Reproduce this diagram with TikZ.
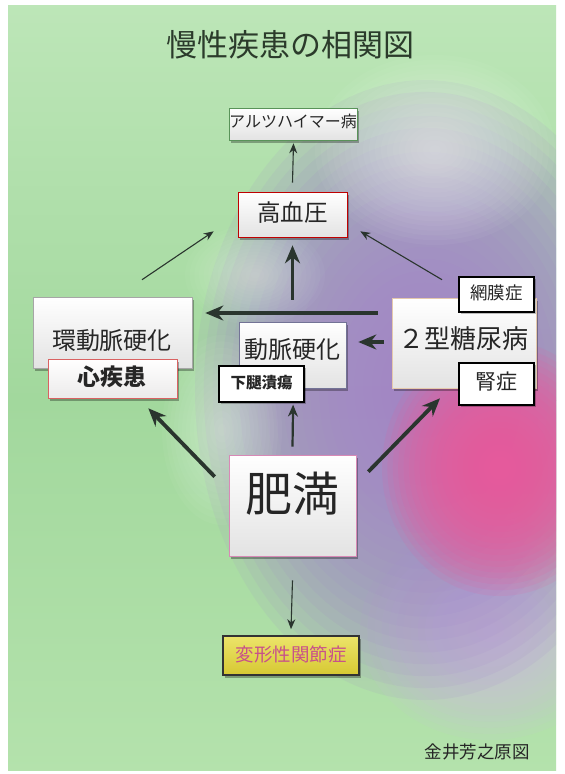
\documentclass[tikz,border=0pt]{standalone}
\usepackage{fontspec}
\newfontfamily\jp{Noto Sans CJK JP}
\usetikzlibrary{shadows,arrows.meta,calc}
\pgfdeclarelayer{backdrop}
\pgfdeclarelayer{connectors}
\pgfsetlayers{backdrop,connectors,main}
\newcommand\jfs[1]{\fontsize{#1}{#1}\selectfont}
% soft blob made of stacked translucent ellipses
\newcommand\softblob[7]{% color, cx, cy, rx, ry, steps, opacity
  \foreach \i in {1,...,#6}{%
    \fill[#1, opacity=#7] (#2,#3) ellipse ({#4*\i/#6} and {#5*\i/#6});
  }}
\definecolor{bgtop}{HTML}{BDE6B8}
\definecolor{bgmid}{HTML}{A2D89D}
\definecolor{bgbot}{HTML}{B4E2AC}
\definecolor{purp}{HTML}{A286CB}
\definecolor{lav}{HTML}{D2BCE4}
\definecolor{pinkb}{HTML}{EC5A9C}
\definecolor{arrowcol}{HTML}{2A352E}
\definecolor{txt}{HTML}{262626}
\definecolor{titlecol}{HTML}{2B3B2B}
\definecolor{yelltop}{HTML}{ECE46A}
\definecolor{yellbot}{HTML}{D6C832}
\definecolor{henktxt}{HTML}{C8508A}
\tikzset{
  box/.style={draw, line width=0.6pt, top color=white, bottom color=black!11, inner sep=0pt,
    drop shadow={shadow xshift=1.5pt, shadow yshift=-2.5pt, opacity=0.3, fill=black}},
  tagbox/.style={draw=black, line width=1.2pt, fill=white, inner sep=0pt,
    drop shadow={shadow xshift=1.5pt, shadow yshift=-2pt, opacity=0.25, fill=black}},
  lbl/.style={font=\jp, text=txt, inner sep=0pt},
  thinarr/.style={draw=arrowcol, line width=1.1pt, -{Stealth[length=10pt,width=8pt]}},
  medarr/.style={draw=arrowcol, line width=2.2pt, -{Stealth[length=12pt,width=10pt]}},
  thickarr/.style={draw=arrowcol, line width=3.8pt, -{Stealth[length=18pt,width=15pt]}}
}
\begin{document}
\begin{tikzpicture}[x=1pt,y=-1pt]
\useasboundingbox (0,0) rectangle (565,774);
\begin{pgfonlayer}{backdrop}
\fill[white] (0,0) rectangle (565,774);
\begin{scope}
\clip (8,5) rectangle (556,770);
\shade[top color=bgtop, bottom color=bgmid] (0,0) rectangle (565,400);
\shade[top color=bgmid, bottom color=bgbot] (0,400) rectangle (565,774);
% lavender lower right
\softblob{lav}{490}{630}{130}{110}{18}{0.09}
% purple region
\softblob{purp}{425}{390}{230}{310}{26}{0.115}
% faint light glow upper right
\softblob{white}{435}{150}{120}{95}{20}{0.04}
% pink blob
\softblob{pinkb}{500}{468}{118}{128}{22}{0.13}
% light areas left of the centre
\softblob{white}{222}{430}{60}{95}{15}{0.035}
\softblob{white}{255}{275}{70}{50}{15}{0.03}
\end{scope}
\end{pgfonlayer}

% title
\node[font=\jp\jfs{31}, text=titlecol, inner sep=0pt] (title) at (290,45) {慢性疾患の相関図};

% boxes
\node[box, draw=black!25!green!30!gray, minimum width=128pt, minimum height=32pt] (alz) at (293,124) {};
\node[lbl, font=\jp\jfs{16}] (alzt) at (293,121) {アルツハイマー病};

\node[box, draw=red!75!black, minimum width=109pt, minimum height=45pt] (hbp) at (292.5,214.5) {};
\node[lbl, font=\jp\jfs{23.5}] (hbpt) at (292.5,213) {高血圧};

\node[box, draw=black!35, minimum width=159pt, minimum height=71pt] (kan) at (112.5,332.5) {};
\node[lbl, font=\jp\jfs{24}] (kant) at (112,340) {環動脈硬化};
\node[box, draw=red!55!white!85!black, bottom color=red!6!black!8, minimum width=129pt, minimum height=39pt] (shin) at (112.5,378.5) {};
\node[lbl, font=\jp\bfseries\jfs{23}] (shint) at (112,377) {心疾患};

\node[box, draw=blue!25!black!55, minimum width=107pt, minimum height=66pt] (dou) at (292.5,355) {};
\node[lbl, font=\jp\jfs{24}] (dout) at (292,349) {動脈硬化};
\node[tagbox, minimum width=85pt, minimum height=36pt] (kata) at (261.5,384) {};
\node[lbl, font=\jp\bfseries\jfs{15.5}] (katat) at (261.5,383) {下腿潰瘍};

\node[box, draw=orange!25!white!90!black, minimum width=144pt, minimum height=90pt] (dm2) at (464,343) {};
\node[lbl, font=\jp\jfs{26}] (dm2t) at (463,339) {２型糖尿病};
\node[tagbox, minimum width=75pt, minimum height=35pt] (mou) at (496.5,294.5) {};
\node[lbl, font=\jp\jfs{17.5}] (mout) at (496.5,293) {網膜症};
\node[tagbox, minimum width=75pt, minimum height=42pt] (jin) at (496.5,384) {};
\node[lbl, font=\jp\jfs{21}] (jint) at (496.5,382) {腎症};

\node[box, draw=magenta!45!white!85!black, minimum width=127pt, minimum height=101pt] (himan) at (292.5,505.5) {};
\node[lbl, font=\jp\jfs{47}] (himant) at (292.5,494) {肥満};

\node[box, draw=black!80, line width=1.6pt, top color=yelltop, bottom color=yellbot, minimum width=136pt, minimum height=39pt] (henkei) at (291,655.5) {};
\node[lbl, font=\jp\jfs{18.5}, text=henktxt] (henkeit) at (291,654) {変形性関節症};

% signature
\node[lbl, font=\jp\jfs{17.5}] (sig) at (477,752) {金井芳之原図};

% connectors (below the boxes)
\begin{pgfonlayer}{connectors}
\draw[thinarr] ($(hbp.north)+(0,-9)$) -- ($(alz.south)+(0.5,3)$);
\draw[thickarr] ($(dou.north)+(0,-22)$) -- ($(hbp.south)+(0,8)$);
\draw[thinarr] ($(kan.north)+(29.5,-17)$) -- ($(hbp.south west)+(-24,-6)$);
\draw[thinarr] ($(dm2.north)+(-22,-18)$) -- ($(hbp.south east)+(13,-6)$);
\draw[thickarr] ($(dm2.west)+(-14,-30)$) -- ($(kan.east)+(13,-19.5)$);
\draw[thickarr] ($(dm2.west)+(-8,-1)$) -- ($(dou.east)+(12,-13)$);
\draw[thickarr] ($(himan.north west)+(-14,22)$) -- ($(shin.south east)+(-29,10)$);
\draw[thickarr] ($(himan.north east)+(12,17)$) -- ($(dm2.south)+(-24,10)$);
\draw[medarr] ($(himan.north)+(0,-8)$) -- ($(kata.south east)+(-11.5,2)$);
\draw[thinarr] ($(himan.south)+(0,24)$) -- ($(henkei.north)+(0,-6)$);
\end{pgfonlayer}
\end{tikzpicture}
\end{document}
